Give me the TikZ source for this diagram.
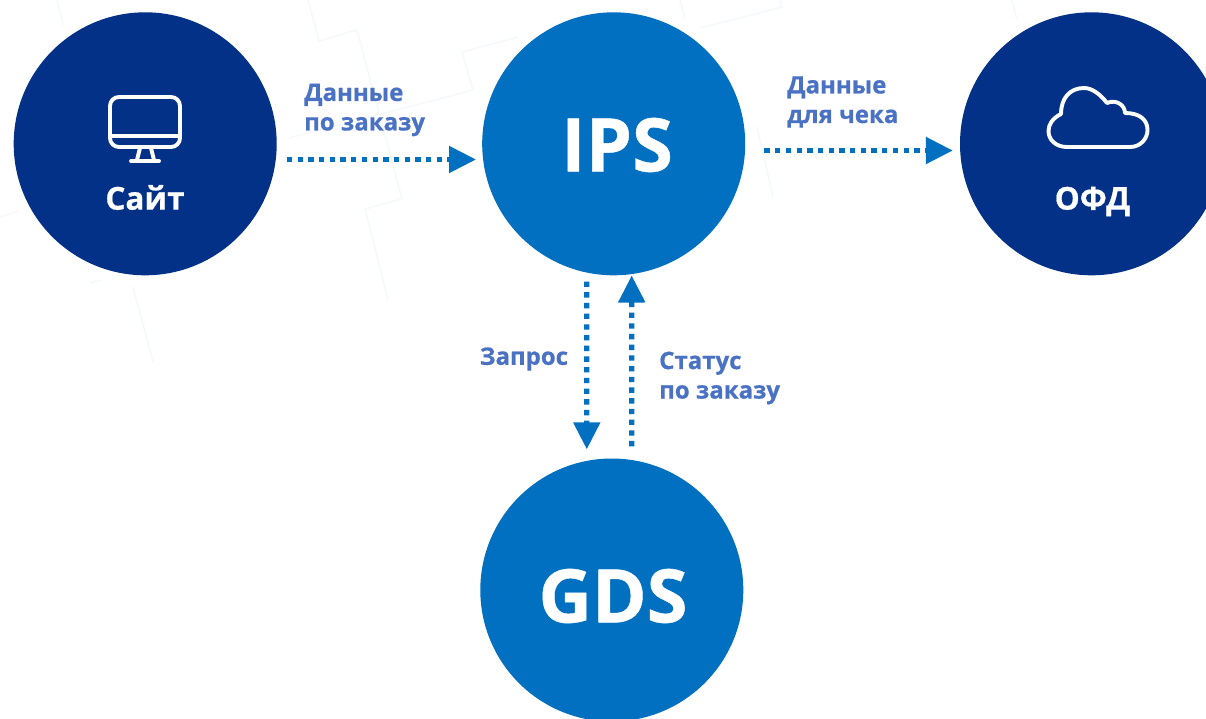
\documentclass[tikz,border=0pt]{standalone}
\usepackage{fontspec}
\setmainfont[BoldFeatures={FakeBold=0.6}]{Open Sans}
\usetikzlibrary{arrows.meta}
\definecolor{navy}{HTML}{033188}
\definecolor{midblue}{HTML}{0170C1}
\definecolor{labelblue}{HTML}{4A72C4}
\definecolor{faint}{HTML}{F5F8FC}
\tikzset{
  x=1pt,y=-1pt,
  disc/.style={circle,draw=none,inner sep=0pt,minimum size=263pt,text=white},
  navydisc/.style={disc,fill=navy},
  bluedisc/.style={disc,fill=midblue},
  bigname/.style={text=white,inner sep=0pt,font=\fontsize{74}{74}\selectfont\bfseries},
  disclabel/.style={text=white,inner sep=0pt,font=\fontsize{31.5}{31.5}\selectfont\bfseries},
  flowlabel/.style={text=labelblue,inner sep=0pt,anchor=west,align=left,font=\fontsize{24}{29.5}\selectfont\bfseries},
  flow/.style={midblue,line width=5.2pt,dash pattern=on 5.35pt off 5.35pt,
    -{Triangle[length=27pt,width=26pt,fill=midblue]}},
  glyph/.style={white,line width=3.9pt,line join=round,line cap=round},
  backdrop/.style={faint,line width=1.5pt}
}
\begin{document}
\begin{tikzpicture}
\useasboundingbox (0,0) rectangle (1206,718);
\clip (0,0) rectangle (1206,718);
\fill[white] (0,0) rectangle (1206,718);
% faint background lines
\draw[backdrop] (308,0) -- (319,41) -- (357,30) -- (402,199) -- (365,209) -- (388,300);
\draw[backdrop] (518,37) -- (462,52) -- (473,90) -- (289,138);
\draw[backdrop] (57,0) -- (63,25);
\draw[backdrop] (0,217) -- (18,211);
\draw[backdrop] (90,283) -- (102,280);
\draw[backdrop] (133,287) -- (153,362);
\draw[backdrop] (680,0) -- (685,18);
\draw[backdrop] (700,28) -- (782,7) -- (780,0);
\draw[backdrop] (1012,0) -- (1017,20);
\draw[backdrop] (757,127) -- (773,197);
% discs
\node[navydisc] (site) at (145.2,143.8) {};
\node[bluedisc] (ips) at (613.7,143.8) {};
\node[navydisc] (ofd) at (1091.5,143.8) {};
\node[bluedisc] (gds) at (611.8,590) {};
\node[bigname] (ipslabel) at (617,145) {IPS};
\node[bigname] (gdslabel) at (613,596) {GDS};
\node[disclabel] (sitelabel) at (145,197.5) {Сайт};
\node[disclabel] (ofdlabel) at (1092.5,201.5) {ОФД};
% monitor icon
\draw[glyph] (119,97) -- (171,97) arc[start angle=90,end angle=0,x radius=9,y radius=-9] -- (180,138)
  arc[start angle=0,end angle=-90,x radius=9,y radius=-9] -- (119,147)
  arc[start angle=-90,end angle=-180,x radius=9,y radius=-9] -- (110,106)
  arc[start angle=180,end angle=90,x radius=9,y radius=-9] -- cycle;
\draw[glyph,line cap=butt] (110,136) -- (180,136);
\draw[glyph,line cap=butt] (140,148) -- (137,160);
\draw[glyph,line cap=butt] (151,148) -- (154,160);
\draw[glyph] (131,161) -- (159,161);
% cloud icon
\draw[glyph] (1067,147) -- (1130,147)
  .. controls (1141,147) and (1147.5,138) .. (1147.5,130)
  .. controls (1147.5,120) and (1140,113) .. (1125,113)
  .. controls (1125,105) and (1116,99) .. (1107,103)
  .. controls (1100,94) and (1092,88) .. (1084,88)
  .. controls (1070,88) and (1061,98) .. (1061,114)
  .. controls (1053,118) and (1048.5,124) .. (1048.5,131)
  .. controls (1048.5,140) and (1056,147) .. (1067,147) -- cycle;
% connectors
\draw[flow,shorten <=10pt,shorten >=6pt] ([yshift=-15.7pt]site.east) -- ([yshift=-15.7pt]ips.west);
\draw[flow,shorten <=19pt,shorten >=7pt] ([yshift=-6.7pt]ips.east) -- ([yshift=-6.7pt]ofd.west);
\draw[flow,shorten <=6pt,shorten >=9pt] ([xshift=-27pt]ips.south) -- ([xshift=-25pt]gds.north);
\draw[flow,shorten <=12pt,shorten >=0pt] ([xshift=20pt]gds.north) -- ([xshift=18pt]ips.south);
% labels
\node[flowlabel] (l1) at (304,110) {Данные\\по заказу};
\node[flowlabel] (l2) at (787,102) {Данные\\для чека};
\node[flowlabel,anchor=center] (l3) at (524,359) {Запрос};
\node[flowlabel] (l4) at (659,378) {Статус\\по заказу};
\end{tikzpicture}
\end{document}
